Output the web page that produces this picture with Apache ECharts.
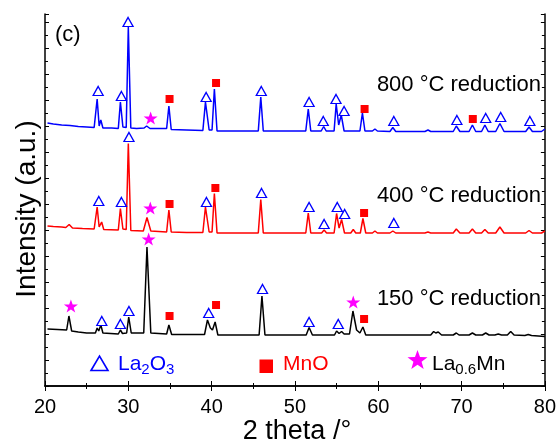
<!DOCTYPE html>
<html>
<head>
<meta charset="utf-8">
<script src="https://cdn.jsdelivr.net/npm/echarts@6/dist/echarts.min.js"></script>
<style>
  html, body { margin: 0; padding: 0; background: #fff; }
  #chart { width: 559px; height: 443px; }
</style>
</head>
<body>
<div id="chart"></div>
<script>
// XRD patterns (2θ in degrees, intensity in a.u., traces offset vertically)
const xTicks = [20, 30, 40, 50, 60, 70, 80];

const pattern800 = [
  [20.3,263],[21,262],[22,261],[23,260.5],[24,259.5],[25,259],[25.9,258.5],[26.26,287],[26.5,260],[26.7,266],
  [26.95,258],[28,258],[28.8,257.5],[29.05,284],[29.35,259],[29.75,258.5],[30.0,359],[30.3,258],[31,257.5],
  [31.9,258],[32.2,260],[32.6,257.5],[34.6,257.5],[34.87,280],[35.15,256.5],[37,256],[38.95,255.5],[39.26,284],
  [39.7,256],[40.05,256],[40.33,297],[40.65,255],[43,255],[45.6,255],[45.9,289],[46.2,255],[49,255],[51.3,255],
  [51.6,277],[51.9,255],[53.15,255],[53.45,259.5],[53.75,255],[54.7,255],[54.95,282],[55.25,261],[55.56,271],
  [55.9,255],[57.8,255],[58.1,273],[58.4,255],[59.3,255],[59.6,257],[59.9,255],[61.4,254.5],[61.75,258.5],
  [62.1,254.5],[65.6,254.5],[65.97,256],[66.3,254.5],[69,254.5],[69.37,260],[69.8,254.5],[70.9,254.5],[71.3,261],
  [71.7,254.5],[72.4,254.5],[72.8,261],[73.2,254.5],[74.1,254.5],[74.6,262.5],[75.1,254.5],[77.7,254.5],
  [78.1,259],[78.5,254.5],[79.6,254.5],[80,257]
];

const pattern400 = [
  [20.3,160],[21,159.5],[22,159],[22.5,158.5],[22.9,161.5],[23.3,158],[24.5,157.5],[25.9,157],[26.26,179],
  [26.5,159],[26.8,164],[27.05,156.5],[28.8,156],[29.05,177.5],[29.35,157],[29.75,156.5],[30.0,242.5],[30.3,155.5],
  [31.8,155],[32.24,168.5],[32.7,155],[34.6,154],[34.87,176],[35.15,154],[37,153.5],[38.95,153.5],[39.26,179],
  [39.7,154],[40.05,154],[40.33,192.5],[40.65,153],[45.6,153],[45.9,186.5],[46.2,153],[51.3,153],[51.6,173],
  [51.9,153],[53.2,153],[53.5,156],[53.8,153],[54.7,153],[55.0,172.5],[55.3,158],[55.6,166.5],[55.95,153],
  [56.7,153],[57.0,156.5],[57.3,153],[57.85,153],[58.16,167.5],[58.5,153],[59.3,153],[59.6,155],[59.9,153],
  [61.4,153],[61.75,155],[62.1,153],[65.6,153],[65.97,154],[66.3,153],[69,153],[69.37,157],[69.8,153],
  [70.9,153],[71.3,157],[71.7,153],[72.4,153],[72.8,156.5],[73.2,153],[74.1,153],[74.6,159],[75.1,153],
  [77.7,153],[78.1,155.5],[78.5,153],[79.6,153],[80,155]
];

const pattern150 = [
  [20.3,57],[21.5,56.5],[22.6,56],[22.87,70],[23.2,55],[24,54],[25,53],[26.05,53],[26.26,58],[26.45,55],
  [26.7,61],[26.95,53],[28.8,52],[29.05,56],[29.3,52.5],[29.8,53],[30.05,69],[30.35,53],[31.85,53],[32.24,139],
  [32.7,53],[34.6,52],[34.87,61],[35.2,51.5],[37,51.5],[39.15,51.5],[39.5,66],[39.85,58],[40.1,56],[40.42,64],
  [40.75,51],[43,51],[45.7,51],[46.04,90],[46.4,51],[49,51],[51.35,51],[51.7,58.5],[52.1,51],[54.75,51],
  [55.0,55],[55.3,52.5],[55.6,54.5],[55.9,52],[56.55,52],[56.96,75],[57.4,56],[57.8,53],[58.16,59],[58.5,51],
  [62,51],[66.3,51],[66.65,54.5],[66.9,53],[67.2,54],[67.6,51],[69,51],[69.37,53],[69.7,51],[70.9,51],
  [71.3,53],[71.7,51],[72.5,51],[72.9,53],[73.3,51],[74,51],[74.4,52],[74.8,51],[75.5,51],[75.9,54.5],
  [76.3,51],[77.6,50.5],[78,51.5],[78.4,50.5],[80,49.5]
];

// Phase markers placed above the assigned reflections
const la2o3_800 = [[26.38,295],[29.17,290],[29.97,364],[39.34,289],[45.96,295],[51.7,284],[53.4,265],
  [54.93,287],[55.9,275],[61.87,265],[69.44,266],[72.9,268],[74.7,269],[78.2,265]];
const la2o3_400 = [[26.46,185],[29.17,184],[30.08,249],[39.38,184],[45.99,193],[51.7,179],[53.5,162],
  [55.08,179],[55.97,172],[61.87,163]];
const la2o3_150 = [[26.82,65],[29.05,62],[30.08,75],[39.65,73],[46.11,97],[51.7,64],[55.2,62]];

const mno_800 = [[34.95,287],[40.53,303],[58.36,277],[71.35,267]];
const mno_400 = [[34.95,182],[40.45,198],[58.3,173]];
const mno_150 = [[34.95,70],[40.53,81],[58.3,67]];

const la06mn_800 = [[32.68,268]];
const la06mn_400 = [[32.64,178]];
const la06mn_150 = [[23.11,80],[32.44,147],[57.0,84]];

const traceLabels = ['800 °C reduction', '400 °C reduction', '150 °C reduction'];

const FONT = 'Liberation Sans, Arial, sans-serif';
const STAR = 'path://M50,0 L61.8,35.4 L97.6,35.4 L68.8,57.3 L79.4,90.5 L50,69.1 L20.6,90.5 L31.2,57.3 L2.4,35.4 L38.2,35.4 Z';

function starPoints(cx, cy, R, r) {
  const pts = [];
  for (let i = 0; i < 10; i++) {
    const a = -Math.PI / 2 + i * Math.PI / 5;
    const rad = i % 2 === 0 ? R : r;
    pts.push([cx + rad * Math.cos(a), cy + rad * Math.sin(a)]);
  }
  return pts;
}

const axisLine = { show: true, lineStyle: { color: '#000', width: 1.5 } };

const chart = echarts.init(document.getElementById('chart'), null, { renderer: 'canvas' });
chart.setOption({
  animation: false,
  backgroundColor: '#fff',
  grid: { left: 45, right: 12, top: 14, bottom: 57 },
  xAxis: [
    {
      type: 'value', min: xTicks[0], max: xTicks[xTicks.length - 1], interval: 10,
      axisLine,
      axisTick: { inside: true, length: 5, lineStyle: { color: '#000', width: 1 } },
      minorTick: { show: true, splitNumber: 2, length: 3, lineStyle: { color: '#000', width: 1 } },
      splitLine: { show: false },
      axisLabel: { color: '#000', fontSize: 20, fontFamily: FONT, margin: 11 }
    },
    {
      type: 'value', position: 'top', min: xTicks[0], max: xTicks[xTicks.length - 1], interval: 10,
      axisLine,
      axisTick: { inside: true, length: 5, lineStyle: { color: '#000', width: 1 } },
      minorTick: { show: true, splitNumber: 2, length: 3, lineStyle: { color: '#000', width: 1 } },
      splitLine: { show: false },
      axisLabel: { show: false }
    }
  ],
  yAxis: [
    {
      type: 'value', min: 0, max: 372, interval: 26,
      axisLine,
      axisTick: { inside: true, length: 4, lineStyle: { color: '#000', width: 1 } },
      minorTick: { show: true, splitNumber: 2, length: 3, lineStyle: { color: '#000', width: 1 } },
      splitLine: { show: false },
      axisLabel: { show: false }
    },
    {
      type: 'value', position: 'right', min: 0, max: 372, interval: 26,
      axisLine,
      axisTick: { inside: true, length: 4, lineStyle: { color: '#000', width: 1 } },
      minorTick: { show: true, splitNumber: 2, length: 3, lineStyle: { color: '#000', width: 1 } },
      splitLine: { show: false },
      axisLabel: { show: false }
    }
  ],
  series: [
    { name: '800', type: 'line', data: pattern800, showSymbol: false, lineStyle: { color: '#0000ff', width: 1.5 }, z: 2 },
    { name: '400', type: 'line', data: pattern400, showSymbol: false, lineStyle: { color: '#ff0000', width: 1.5 }, z: 2 },
    { name: '150', type: 'line', data: pattern150, showSymbol: false, lineStyle: { color: '#000000', width: 1.5 }, z: 2 },
    {
      name: 'La2O3', type: 'scatter', symbol: 'triangle', symbolSize: [10, 9],
      data: [...la2o3_800, ...la2o3_400, ...la2o3_150],
      itemStyle: { color: '#fff', borderColor: '#0000ff', borderWidth: 1.3, opacity: 1 }, z: 5
    },
    {
      name: 'MnO', type: 'scatter', symbol: 'rect', symbolSize: 8,
      data: [...mno_800, ...mno_400, ...mno_150],
      itemStyle: { color: '#ff0000', opacity: 1 }, z: 5
    },
    {
      name: 'La0.6Mn', type: 'scatter', symbol: STAR, symbolSize: [14, 13],
      data: [...la06mn_800, ...la06mn_400, ...la06mn_150],
      itemStyle: { color: '#ff00ff', opacity: 1 }, z: 5
    }
  ],
  graphic: [
    { type: 'text', left: 55, top: 24, style: { text: '(c)', fontSize: 22, fontFamily: FONT, fill: '#000' } },
    { type: 'text', x: 541, y: 85, style: { text: traceLabels[0], fontSize: 22, fontFamily: FONT, fill: '#000', textAlign: 'right', textVerticalAlign: 'middle' } },
    { type: 'text', x: 541, y: 196, style: { text: traceLabels[1], fontSize: 22, fontFamily: FONT, fill: '#000', textAlign: 'right', textVerticalAlign: 'middle' } },
    { type: 'text', x: 541, y: 299, style: { text: traceLabels[2], fontSize: 22, fontFamily: FONT, fill: '#000', textAlign: 'right', textVerticalAlign: 'middle' } },
    // legend keys
    { type: 'polygon', shape: { points: [[91, 370.5], [99.5, 356], [108, 370.5]] }, style: { fill: 'none', stroke: '#0000ff', lineWidth: 1.6 } },
    {
      type: 'text', x: 118, y: 364,
      style: {
        text: '{n|La}{s|2}{n|O}{s|3}', fill: '#0000ff', textVerticalAlign: 'middle',
        rich: {
          n: { fontSize: 21, fontFamily: FONT, fill: '#0000ff', lineHeight: 30 },
          s: { fontSize: 15, fontFamily: FONT, fill: '#0000ff', lineHeight: 30, padding: [12, 0, 0, 0] }
        }
      }
    },
    { type: 'rect', shape: { x: 259.5, y: 359.5, width: 13.5, height: 13.5 }, style: { fill: '#ff0000' } },
    { type: 'text', x: 283, y: 364, style: { text: 'MnO', fontSize: 21, fontFamily: FONT, fill: '#ff0000', textVerticalAlign: 'middle' } },
    { type: 'polygon', shape: { points: starPoints(417.5, 360.5, 10.5, 4.3) }, style: { fill: '#ff00ff' } },
    {
      type: 'text', x: 432, y: 364,
      style: {
        text: '{n|La}{s|0.6}{n|Mn}', fill: '#000', textVerticalAlign: 'middle',
        rich: {
          n: { fontSize: 21, fontFamily: FONT, fill: '#000', lineHeight: 30 },
          s: { fontSize: 15, fontFamily: FONT, fill: '#000', lineHeight: 30, padding: [12, 0, 0, 0] }
        }
      }
    },
    // axis titles
    { type: 'text', x: 297, y: 432, style: { text: '2 theta /°', fontSize: 27, fontFamily: FONT, fill: '#000', textAlign: 'center', textVerticalAlign: 'middle' } },
    { type: 'text', x: 27, y: 209, rotation: Math.PI / 2, style: { text: 'Intensity (a.u.)', fontSize: 28, fontFamily: FONT, fill: '#000', textAlign: 'center', textVerticalAlign: 'middle' } }
  ]
});
</script>
</body>
</html>
